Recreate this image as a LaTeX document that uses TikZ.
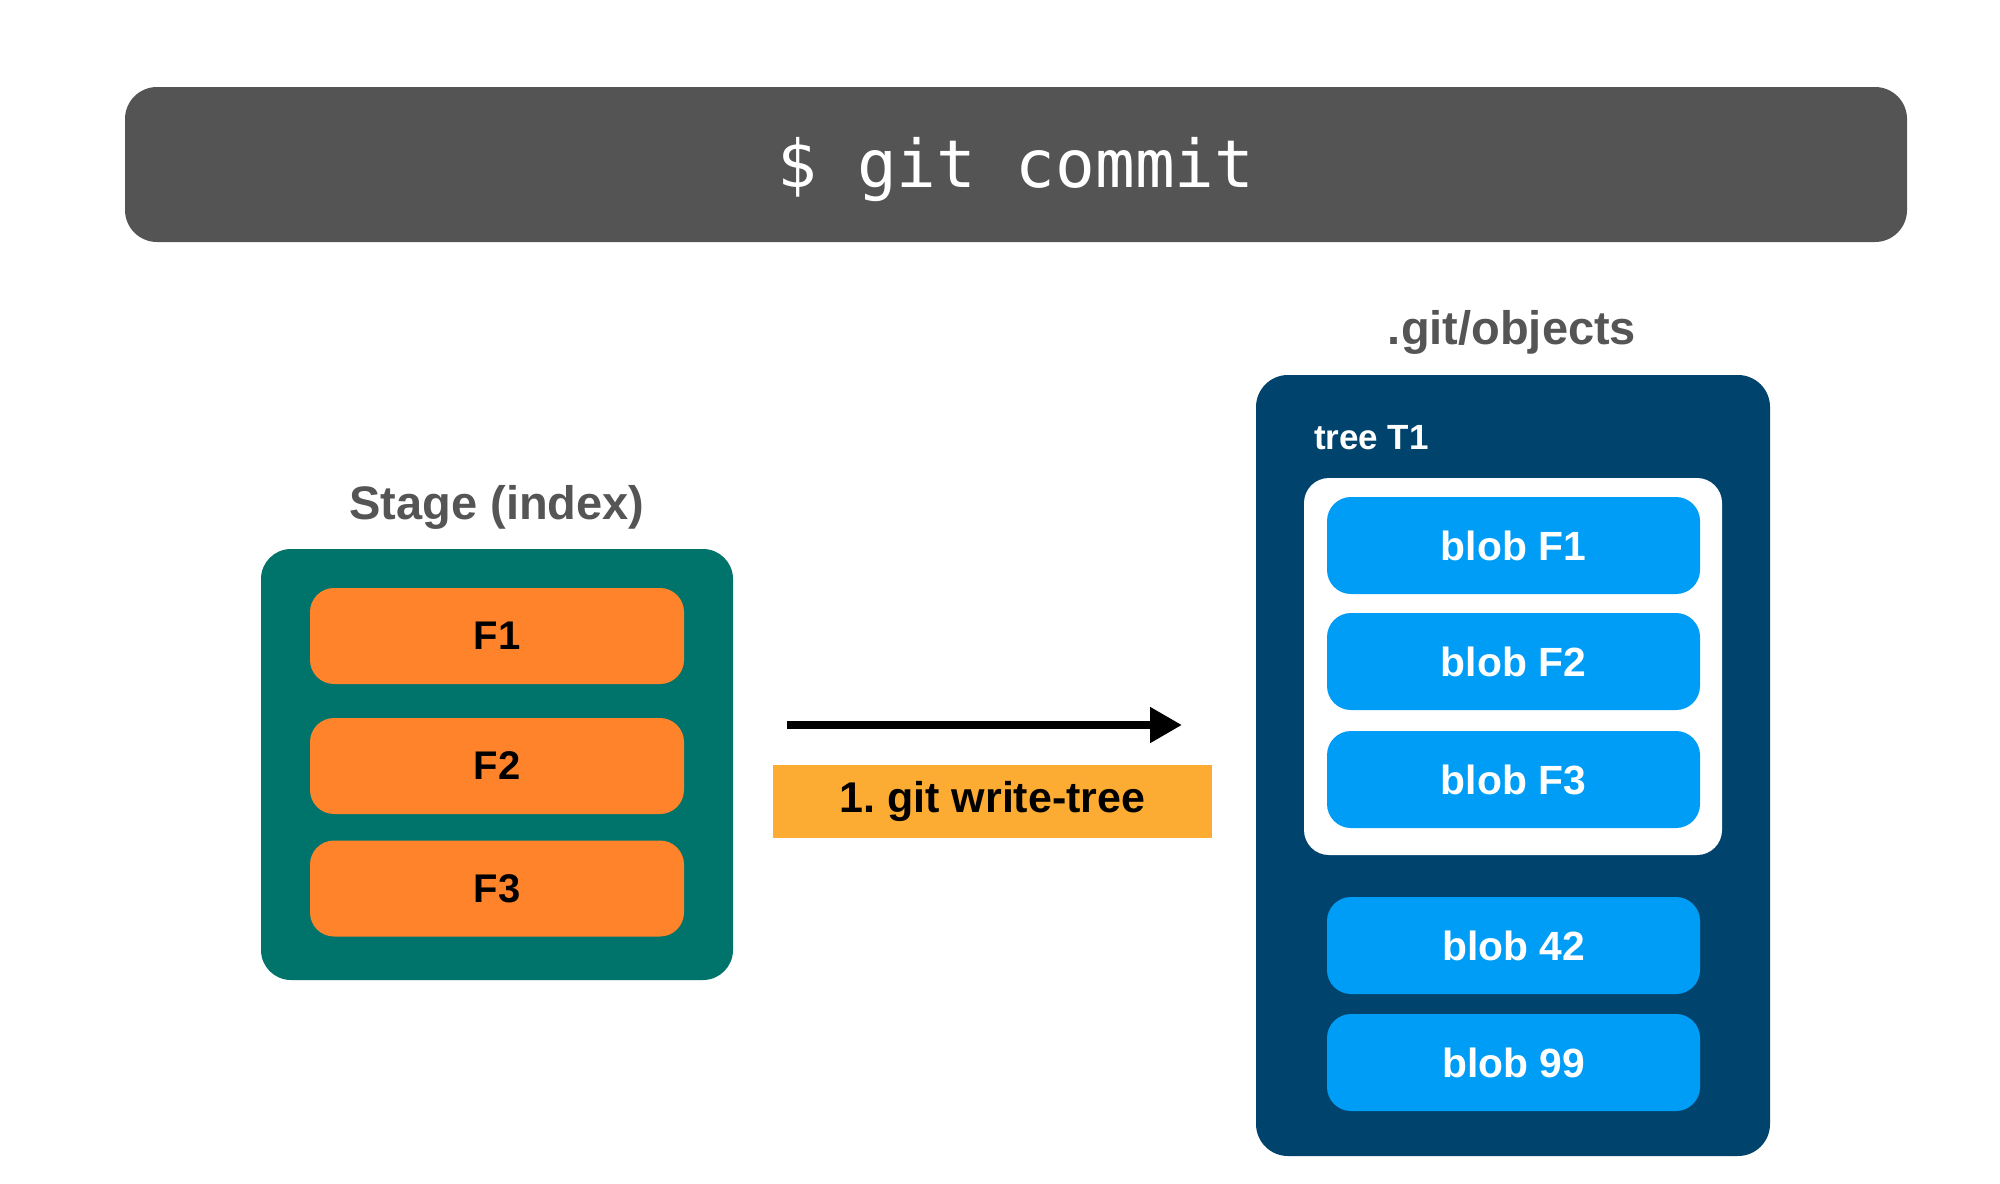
\documentclass[tikz,border=0pt]{standalone}
\usepackage{fontspec}
\setmainfont{Liberation Sans}
\newfontfamily\codefont{DejaVu Sans Mono}
\usetikzlibrary{arrows.meta}
\frenchspacing
\definecolor{hdrgray}{HTML}{545454}
\definecolor{titlegray}{HTML}{555555}
\definecolor{stageteal}{HTML}{00736A}
\definecolor{fileorange}{HTML}{FF832B}
\definecolor{labelorange}{HTML}{FDAC33}
\definecolor{objnavy}{HTML}{00446D}
\definecolor{blobblue}{HTML}{009DF7}
\begin{document}
\begin{tikzpicture}[x=0.5pt,y=-0.5pt,
  every node/.style={inner sep=0pt,outer sep=0pt},
  header/.style={fill=hdrgray,rounded corners=16pt,minimum width=891pt,minimum height=77.5pt},
  headertext/.style={text=white,font=\codefont\fontsize{33pt}{36pt}\selectfont},
  sectitle/.style={text=titlegray,font=\bfseries\fontsize{23.5pt}{26pt}\selectfont},
  stagebox/.style={fill=stageteal,rounded corners=15pt,minimum width=236pt,minimum height=215.5pt},
  filebox/.style={fill=fileorange,rounded corners=12pt,minimum width=187pt,minimum height=48pt,
    text=black,font=\bfseries\fontsize{20pt}{24pt}\selectfont},
  stepbox/.style={fill=labelorange,minimum width=219.5pt,minimum height=36.5pt,
    text=black,font=\bfseries\fontsize{21.5pt}{24pt}\selectfont},
  objbox/.style={fill=objnavy,rounded corners=16pt,minimum width=257pt,minimum height=390.5pt},
  treebox/.style={fill=white,rounded corners=12.5pt,minimum width=209pt,minimum height=188.5pt},
  blobbox/.style={fill=blobblue,rounded corners=12pt,minimum width=186.5pt,minimum height=48.5pt,
    text=white,font=\bfseries\fontsize{20.4pt}{24pt}\selectfont},
  treelabel/.style={text=white,font=\bfseries\fontsize{17.5pt}{20pt}\selectfont}
]
\useasboundingbox (0,0) rectangle (2000,1183);
\fill[white] (0,0) rectangle (2000,1183);

\node[header] (hdr) at (1016,164.5) {};
\node[headertext] (hdrtext) at (1016,170) {\$ git commit};

\node[sectitle] (stagetitle) at (497,507) {Stage (index)};
\node[stagebox] (stage) at (497,764.5) {};
\node[filebox] (f1) at (497,636) {F1};
\node[filebox] (f2) at (497,766) {F2};
\node[filebox] (f3) at (497,888.5) {F3};

\coordinate (arrstart) at (787,725);
\coordinate (arrend) at (1182,725);
\draw[line width=4pt,-{Triangle[length=16pt,width=17pt]}] (arrstart) -- (arrend);
\node[stepbox] (step1) at (992.5,801.5) {1. git write-tree};

\node[sectitle] (objtitle) at (1512,332) {.git/objects};
\node[objbox] (objs) at (1513,765.5) {};
\node[treelabel,anchor=west] (treet1) at (1314,438) {tree T1};
\node[treebox] (tree) at (1513,666.5) {};
\node[blobbox] (bf1) at (1513.5,545.5) {blob F1};
\node[blobbox] (bf2) at (1513.5,661.5) {blob F2};
\node[blobbox] (bf3) at (1513.5,779.5) {blob F3};
\node[blobbox] (b42) at (1513.5,945.5) {blob 42};
\node[blobbox] (b99) at (1513.5,1062.5) {blob 99};
\end{tikzpicture}
\end{document}
